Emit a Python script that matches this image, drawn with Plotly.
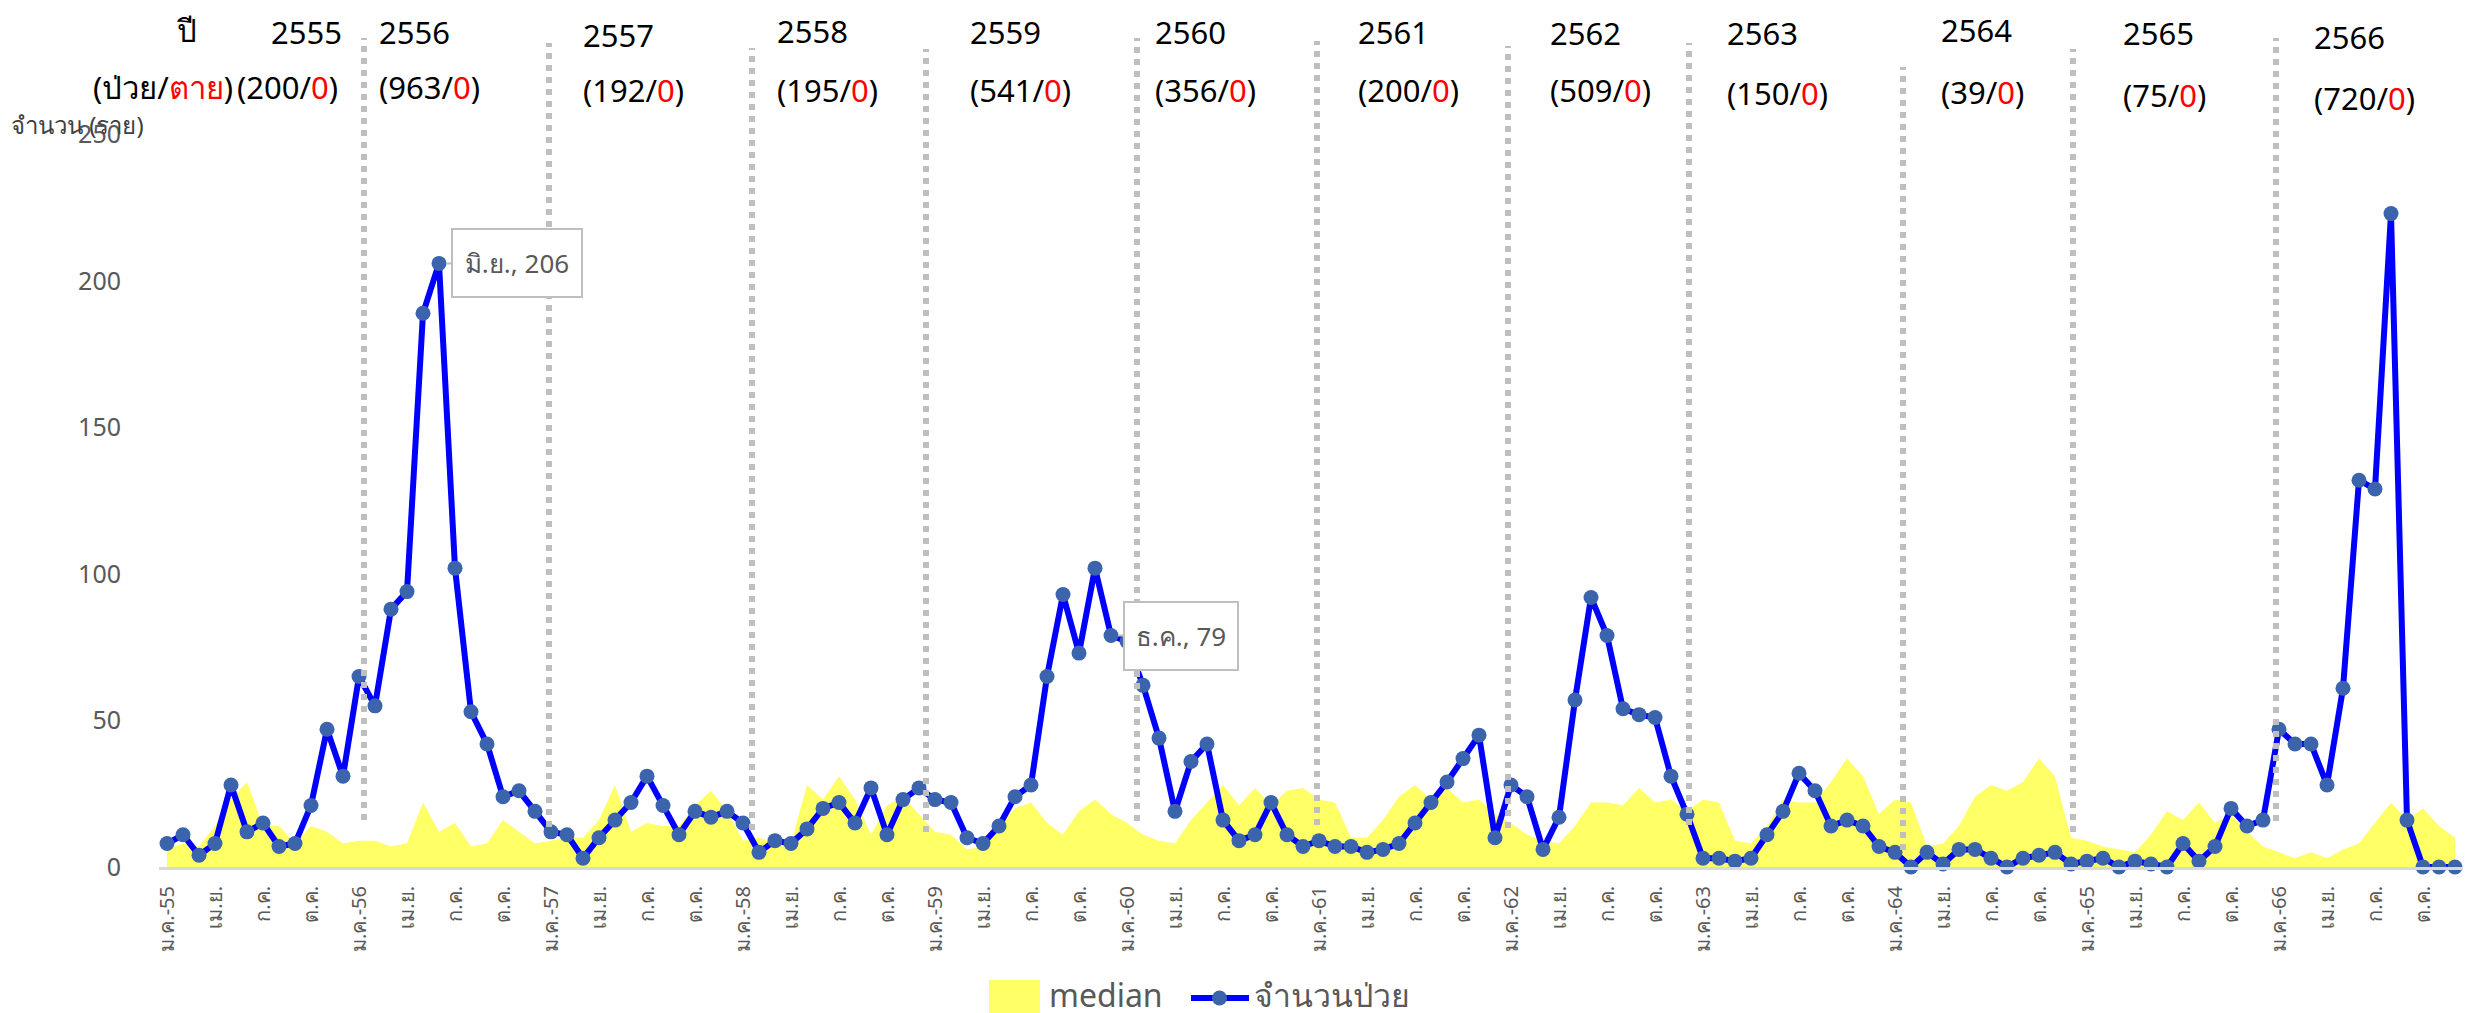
import plotly.graph_objects as go


MONTHS = ["ม.ค.", "ก.พ.", "มี.ค.", "เม.ย.", "พ.ค.", "มิ.ย.",
          "ก.ค.", "ส.ค.", "ก.ย.", "ต.ค.", "พ.ย.", "ธ.ค."]

YEARS = [2555, 2556, 2557, 2558, 2559, 2560, 2561, 2562, 2563, 2564, 2565, 2566]

DEATHS = [0, 0, 0, 0, 0, 0, 0, 0, 0, 0, 0, 0]

# จำนวนป่วยรายเดือน ม.ค.-55 ถึง ธ.ค.-66
CASES = [
    8, 11, 4, 8, 28, 12, 15, 7, 8, 21, 47, 31,
    65, 55, 88, 94, 189, 206, 102, 53, 42, 24, 26, 19,
    12, 11, 3, 10, 16, 22, 31, 21, 11, 19, 17, 19,
    15, 5, 9, 8, 13, 20, 22, 15, 27, 11, 23, 27,
    23, 22, 10, 8, 14, 24, 28, 65, 93, 73, 102, 79,
    77, 62, 44, 19, 36, 42, 16, 9, 11, 22, 11, 7,
    9, 7, 7, 5, 6, 8, 15, 22, 29, 37, 45, 10,
    28, 24, 6, 17, 57, 92, 79, 54, 52, 51, 31, 18,
    3, 3, 2, 3, 11, 19, 32, 26, 14, 16, 14, 7,
    5, 0, 5, 1, 6, 6, 3, 0, 3, 4, 5, 1,
    2, 3, 0, 2, 1, 0, 8, 2, 7, 20, 14, 16,
    47, 42, 42, 28, 61, 132, 129, 223, 16, 0, 0, 0,
]

MEDIAN = [
    6, 8, 7, 14, 23, 29, 14, 14, 8, 14, 12, 8,
    9, 9, 7, 8, 22, 12, 15, 7, 8, 16, 12, 8,
    9, 10, 10, 16, 28, 12, 15, 14, 14, 21, 26, 19,
    9, 10, 8, 8, 28, 23, 31, 23, 11, 21, 24, 18,
    12, 11, 6, 7, 14, 20, 22, 15, 11, 19, 23, 18,
    15, 11, 9, 8, 16, 22, 28, 21, 27, 21, 26, 27,
    23, 22, 10, 10, 16, 24, 28, 23, 27, 22, 23, 18,
    15, 11, 9, 8, 14, 22, 22, 21, 27, 22, 23, 19,
    23, 22, 9, 8, 14, 23, 22, 22, 29, 37, 31, 18,
    23, 22, 7, 8, 14, 24, 28, 26, 29, 37, 31, 10,
    9, 7, 6, 5, 11, 19, 16, 22, 15, 18, 12, 7,
    5, 3, 5, 3, 6, 8, 15, 22, 16, 20, 14, 10,
]

# จุดที่มีป้ายกำกับ (ลำดับเดือน)
CALLOUTS = [17, 59]

FONT = "Noto Sans, sans-serif"
W, H = 2466, 1013
L, R, T, B = 159, 3, 0, 146
Y_TOP = (H - B - T) / 2.93


def px_x(px):
    return (px - L) / (W - L - R)


def px_y(py):
    return (H - B - py) / (H - B - T)


labels = []
for y in YEARS:
    for m, name in enumerate(MONTHS):
        labels.append(f"{name}-{str(y)[-2:]}" if m == 0 else name)
x = list(range(len(CASES)))
tickvals = x[::3]

fig = go.Figure()

fig.add_trace(
    go.Scatter(
        x=x, y=MEDIAN, mode="lines", fill="tozeroy",
        fillcolor="#FFFF66", line=dict(width=0, color="#FFFF66"),
        name="median", showlegend=False
    )
)

fig.add_trace(
    go.Scatter(
        x=x, y=CASES, mode="lines+markers",
        line=dict(color="#0000FF", width=6),
        marker=dict(size=15, color="#3C64AC"),
        name="จำนวนป่วย", cliponaxis=False, showlegend=False
    )
)

# เส้นแบ่งปี
div_x = [364, 549, 752, 926, 1137, 1317, 1508, 1689, 1903, 2073, 2276]
div_top = [38, 43, 48, 49, 38, 41, 46, 43, 67, 49, 38]
div_bot = [820, 827, 830, 832, 821, 825, 828, 825, 850, 832, 821]
for dx, t, b in zip(div_x, div_top, div_bot):
    fig.add_shape(
        type="line", xref="paper", yref="paper",
        x0=px_x(dx), x1=px_x(dx), y0=px_y(b), y1=px_y(t),
        line=dict(color="#BFBFBF", width=6, dash="dot"), layer="above"
    )

# หัวตาราง ปี / (ป่วย/ตาย)
totals = [sum(CASES[i * 12:(i + 1) * 12]) for i in range(len(YEARS))]
col_x = [269, 377, 581, 775, 968, 1153, 1356, 1548, 1725, 1939, 2121, 2312]
row1_y = [32, 32, 35, 31, 32, 32, 32, 33, 33, 30, 33, 37]
row2_y = [87, 87, 90, 90, 90, 90, 90, 90, 93, 92, 95, 98]
head_font = dict(family=FONT, size=31, color="black")

fig.add_annotation(
    text="ปี", xref="paper", yref="paper", x=px_x(186), y=px_y(30),
    xanchor="center", yanchor="middle", showarrow=False, font=head_font
)
fig.add_annotation(
    text="(ป่วย/<span style='color:#FF0000'>ตาย</span>)",
    xref="paper", yref="paper", x=px_x(235), y=px_y(row2_y[0]),
    xanchor="right", yanchor="middle", showarrow=False, font=head_font
)
for j, yr in enumerate(YEARS):
    cx = 235 if j == 0 else col_x[j]
    fig.add_annotation(
        text=str(yr), xref="paper", yref="paper",
        x=px_x(col_x[j]), y=px_y(row1_y[j]),
        xanchor="left", yanchor="middle", showarrow=False, font=head_font
    )
    fig.add_annotation(
        text=f"({totals[j]}/<span style='color:#FF0000'>{DEATHS[j]}</span>)",
        xref="paper", yref="paper", x=px_x(cx), y=px_y(row2_y[j]),
        xanchor="left", yanchor="middle", showarrow=False, font=head_font
    )

# ป้ายกำกับจุด
for i, box_w in zip(CALLOUTS, [120, 104]):
    fig.add_annotation(
        x=i, y=CASES[i], xref="x", yref="y",
        text=f"{MONTHS[i % 12]}, {CASES[i]}",
        showarrow=True, arrowhead=0, arrowcolor="#BFBFBF", arrowwidth=2,
        ax=box_w / 2 + 18, ay=0, standoff=7,
        width=box_w, height=58, borderpad=4,
        bgcolor="white", bordercolor="#BFBFBF", borderwidth=2,
        font=dict(family=FONT, size=26, color="#595959")
    )

# ชื่อแกน y
fig.add_annotation(
    text="จำนวน (ราย)", xref="paper", yref="paper",
    x=px_x(9), y=px_y(124), xanchor="left", yanchor="middle",
    showarrow=False, font=dict(family=FONT, size=24, color="#404040")
)

# คำอธิบายสัญลักษณ์
fig.add_shape(
    type="rect", xref="paper", yref="paper",
    x0=px_x(989), x1=px_x(1040), y0=px_y(1013), y1=px_y(980),
    fillcolor="#FFFF66", line=dict(width=0)
)
fig.add_annotation(
    text="median", xref="paper", yref="paper", x=px_x(1047), y=px_y(994),
    xanchor="left", yanchor="middle", showarrow=False,
    font=dict(family=FONT, size=32, color="#595959")
)
fig.add_shape(
    type="line", xref="paper", yref="paper",
    x0=px_x(1191), x1=px_x(1249), y0=px_y(998), y1=px_y(998),
    line=dict(color="#0000FF", width=6)
)
fig.add_shape(
    type="circle", xref="paper", yref="paper",
    x0=px_x(1212), x1=px_x(1227), y0=px_y(1005.5), y1=px_y(990.5),
    fillcolor="#3C64AC", line=dict(width=0)
)
fig.add_annotation(
    text="จำนวนป่วย", xref="paper", yref="paper", x=px_x(1252), y=px_y(994),
    xanchor="left", yanchor="middle", showarrow=False,
    font=dict(family=FONT, size=32, color="#595959")
)

fig.update_xaxes(
    range=[-0.5, len(CASES) - 0.5],
    tickvals=tickvals, ticktext=[labels[i] for i in tickvals],
    tickangle=-90, tickfont=dict(family=FONT, size=20, color="#595959"),
    showline=True, linecolor="#D9D9D9", linewidth=3,
    showgrid=False, zeroline=False, ticks="", ticklabelstandoff=8
)
fig.update_yaxes(
    range=[0, Y_TOP], tickvals=[0, 50, 100, 150, 200, 250],
    tickfont=dict(family=FONT, size=25, color="#595959"),
    showgrid=False, zeroline=False, showline=False, ticks="",
    ticklabelstandoff=37
)

fig.update_layout(
    width=W, height=H,
    margin=dict(l=L, r=R, t=T, b=B),
    paper_bgcolor="white", plot_bgcolor="white",
    font=dict(family=FONT, color="#595959"),
    showlegend=False
)

fig.write_html(
    "out.html",
    config={"displayModeBar": False},
    post_script="document.body.style.margin='0';"
)
